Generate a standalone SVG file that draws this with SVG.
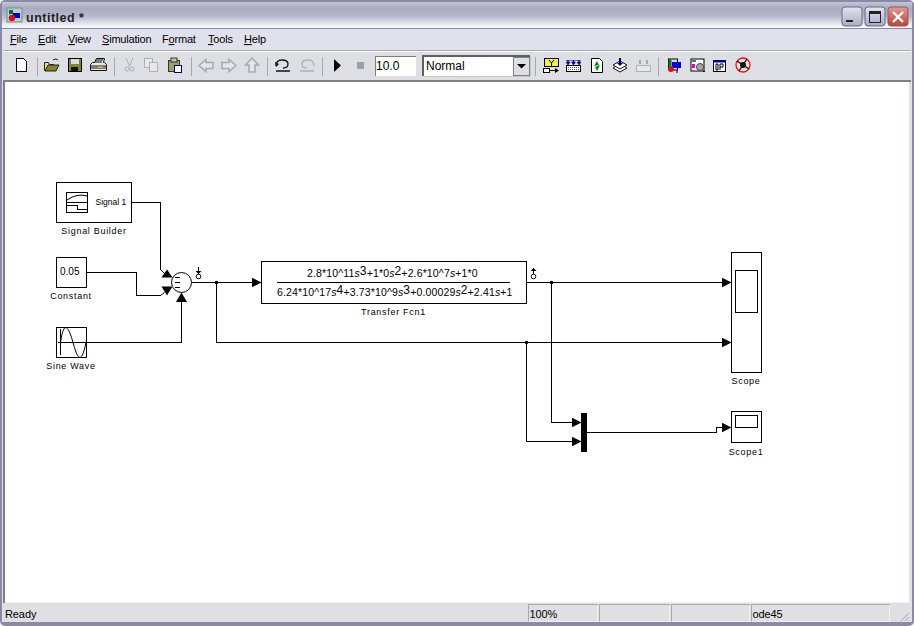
<svg xmlns="http://www.w3.org/2000/svg" width="914" height="626" viewBox="0 0 914 626">
<style>
text{font-family:"Liberation Sans",Arial,sans-serif;fill:#000}
.m{font-size:11px;letter-spacing:-.2px}
.u{text-decoration:underline}
.l{font-size:9px;letter-spacing:.7px;text-anchor:middle}
.f{font-size:10.500px;letter-spacing:.14px}
.e{font-size:12px}
.b{fill:#fff;stroke:#000;stroke-width:1;shape-rendering:crispEdges}
.w{fill:none;stroke:#000;stroke-width:1;shape-rendering:crispEdges}
.w2{fill:none;stroke:#000;stroke-width:1}
.sep{stroke:#a9a9ad;stroke-width:1;shape-rendering:crispEdges}
.s{font-size:11px;letter-spacing:-.1px}
.g{fill:#e6e6ea;stroke:#a8a8ac;stroke-width:1.500}
.sb{fill:none;stroke:#a8a8ac;stroke-width:1;shape-rendering:crispEdges}
.sh{fill:none;stroke:#f2f2f4;stroke-width:1;shape-rendering:crispEdges}
</style>
<defs>
<linearGradient id="tb" x1="0" y1="0" x2="0" y2="1">
<stop offset="0" stop-color="#c4c4d4"/><stop offset=".25" stop-color="#aaaac0"/><stop offset=".55" stop-color="#b8b8cc"/><stop offset=".85" stop-color="#e8e8f0"/><stop offset="1" stop-color="#fdfdfe"/>
</linearGradient>
<linearGradient id="btn" x1="0" y1="0" x2="0" y2="1"><stop offset="0" stop-color="#e4e5ee"/><stop offset="1" stop-color="#a9abc4"/></linearGradient>
<linearGradient id="cl" x1="0" y1="0" x2="0" y2="1"><stop offset="0" stop-color="#e39a8c"/><stop offset="1" stop-color="#b8453c"/></linearGradient>
<marker id="a" markerWidth="10" markerHeight="11" refX="9.500" refY="5.500" orient="auto" markerUnits="userSpaceOnUse"><path d="M0 .5L10 5.500L0 10.500z" fill="#000"/></marker>
</defs>

<g id="window-chrome">
<rect x="0" y="0" width="914" height="626" fill="#8a8aa6" rx="5"/>
<rect x="2" y="2" width="910" height="622" fill="#dfe0e8" rx="3"/>
<rect x="2" y="2" width="910" height="26" fill="url(#tb)"/>
<rect x="0" y="28" width="914" height="1" fill="#8a8aa6"/>
<rect x="3" y="29" width="908" height="21" fill="#e0e2eb"/>
<rect x="3" y="50" width="908" height="1" fill="#a8a8ac"/>
<rect x="3" y="51" width="908" height="1" fill="#fff"/>
<rect x="3" y="52" width="908" height="28" fill="#dedfe5"/>
<rect x="3" y="80" width="908" height="2" fill="#808084"/>
<rect x="3" y="82" width="2" height="521" fill="#808084"/>
<rect x="5" y="82" width="904" height="521" fill="#fff"/>
<rect x="5" y="602" width="904" height="1" fill="#f0f0ec"/>
<rect x="3" y="603" width="908" height="19" fill="#dfdfe4"/>
<rect x="2" y="622" width="910" height="2" fill="#8a8aa6"/>
</g>

<g id="title-bar">
<rect x="7" y="8" width="15" height="14" fill="#c8c8c8" stroke="#40a0a0"/>
<path d="M9 10h4v4h-4z" fill="#0a6a2a"/><rect x="13" y="13" width="7" height="5" fill="#0000d8"/><circle cx="12" cy="18" r="3.200" fill="#d81010"/>
<text x="26" y="22" font-size="12.500" font-weight="bold" letter-spacing=".5" style="fill:#222">untitled *</text>
<rect x="842" y="7" width="20" height="19" rx="3" fill="url(#btn)" stroke="#68688a"/>
<rect x="846" y="20" width="7" height="2" fill="#222"/>
<rect x="865" y="7" width="20" height="19" rx="3" fill="url(#btn)" stroke="#68688a"/>
<rect x="869.500" y="11.500" width="11" height="11" fill="none" stroke="#222"/><rect x="870" y="12" width="10" height="2" fill="#222"/>
<rect x="888" y="7" width="20" height="19" rx="3" fill="url(#cl)" stroke="#8a5a60"/>
<path d="M893 12l10 10M903 12l-10 10" stroke="#fff" stroke-width="2.400"/>
</g>

<g id="menu-bar" class="m">
<text x="10" y="43"><tspan class="u">F</tspan>ile</text>
<text x="38" y="43"><tspan class="u">E</tspan>dit</text>
<text x="68" y="43"><tspan class="u">V</tspan>iew</text>
<text x="102" y="43"><tspan class="u">S</tspan>imulation</text>
<text x="162" y="43">F<tspan class="u">o</tspan>rmat</text>
<text x="208" y="43"><tspan class="u">T</tspan>ools</text>
<text x="244" y="43"><tspan class="u">H</tspan>elp</text>
</g>

<g id="toolbar">
<path d="M16.500 58.500h7l3 3v9.500h-10z" fill="#fff" stroke="#000" shape-rendering="crispEdges"/>
<path class="sep" d="M37 57v19M114 57v19M191 57v19M267 57v19M322 57v19M535 57v19M658 57v19" fill="none"/>
<path d="M44.500 62.500h4l1 2h4v6h-9z" fill="#f4e45c" stroke="#222"/><path d="M45 71l3-6h11l-3 6z" fill="#84842c" stroke="#222"/><path d="M53 60q3-2 5 0" fill="none" stroke="#222"/>
<rect x="68.500" y="58.500" width="13" height="13" fill="#84842c" stroke="#000"/><rect x="71" y="59" width="8" height="5" fill="#ddd"/><rect x="71" y="67" width="7" height="4" fill="#111"/>
<path d="M90.500 64.500l2-2h2l2-4h8l-1 4h1l2 2v6h-16z" fill="#e8e8e8" stroke="#111"/><path d="M96 60h7M95 62h7M91 66h15M91 68h15" stroke="#111"/><rect x="98" y="66.500" width="5" height="1.500" fill="#d4c020"/>
<g fill="none" stroke="#b0b0b4"><path d="M126 58l4 9M133 58l-4 9"/><circle cx="127" cy="69" r="2"/><circle cx="132" cy="69" r="2"/></g>
<g fill="#e8e8ea" stroke="#b0b0b4" shape-rendering="crispEdges"><rect x="144.500" y="58.500" width="8" height="9"/><rect x="149.500" y="62.500" width="8" height="9"/></g>
<rect x="168.500" y="60.500" width="11" height="11" fill="#a0a060" stroke="#333"/><rect x="171" y="58" width="6" height="4" fill="#c8c8a0" stroke="#333"/><rect x="174.500" y="65.500" width="7" height="7" fill="#fff" stroke="#000080"/>
<path class="g" d="M199 65.500l7-6v3h7v6h-7v3z"/><path class="g" d="M236 65.500l-7-6v3h-7v6h7v3z"/>
<path class="g" d="M252 58l6.500 7h-3.500v7h-6v-7h-3.500z"/>
<path d="M276 66q0-6 6-6t6 4t-5 4M276 71h14" fill="none" stroke="#111" stroke-width="1.300"/><path d="M275 62l1 5l3-3z" fill="#111"/>
<path d="M314 66q0-6-6-6t-6 4t5 4M300 71h14" fill="none" stroke="#b0b0b4" stroke-width="1.300"/>
<path d="M334 59l7 6.500l-7 6.500z" fill="#000"/>
<rect x="357" y="62" width="7" height="7" fill="#a0a0a4"/>
<rect x="375" y="56" width="41" height="20" fill="#fff"/><path d="M375 76v-20h41" fill="none" stroke="#80806c" shape-rendering="crispEdges"/>
<text x="376" y="70" font-size="12">10.0</text>
<rect x="423" y="56" width="107" height="20" fill="#fff"/><path d="M423 76v-20h107" fill="none" stroke="#60605a" stroke-width="1.500" shape-rendering="crispEdges"/>
<path d="M423 76h107v-20" fill="none" stroke="#c8c8b8" shape-rendering="crispEdges"/>
<text x="426" y="70" font-size="12">Normal</text>
<rect x="513" y="57" width="16" height="18" fill="#dedfe5" stroke="#808084" shape-rendering="crispEdges"/><path d="M517 64h9l-4.500 4.500z" fill="#000"/>
<rect x="544.500" y="58.500" width="14" height="8" fill="#f0f040" stroke="#000"/><path d="M549 60l2.500 3l2.500-3M551.500 63v3" stroke="#000" fill="none"/>
<rect x="543.500" y="68.500" width="6" height="4" fill="#fff" stroke="#000"/><path d="M549 70.500h8" stroke="#000"/><path d="M555 68l4 2.500l-4 2.500z" fill="#000"/>
<rect x="566.500" y="65.500" width="14" height="6" fill="#fff" stroke="#000"/><path d="M568 67.500h12M568 69.500h12" stroke="#555" stroke-dasharray="1 1"/>
<path d="M568 60v4M573.500 60v4M579 60v4" stroke="#00007a" stroke-width="1.200"/><path d="M566 62l2 3l2-3zM571.500 62l2 3l2-3zM577 62l2 3l2-3zM566 60.500h15" fill="#00007a" stroke="#00007a" stroke-width=".5"/>
<path d="M591.500 58.500h8l3 3v11h-11z" fill="#fff" stroke="#000"/><path d="M594 66l3-5l2 4zM600 65l-3 6l-2-4z" fill="#108010"/>
<path d="M613 68l7-4l7 4l-7 4z" fill="#fff" stroke="#111"/><path d="M613 65l7-4l7 4l-7 4z" fill="#fff" stroke="#111"/><path d="M620 58v7" stroke="#00007a" stroke-width="2"/><path d="M617 63h6l-3 3z" fill="#00007a"/>
<rect x="636.500" y="65.500" width="14" height="6" fill="#e8e8e8" stroke="#b0b0b4"/><path d="M640 60v4M647 60v4" stroke="#a8a8ac" stroke-width="2"/>
<rect x="668.500" y="59" width="9" height="11" fill="none" stroke="#000"/><path d="M669 59v-1M669 60h2v6h-2z" fill="#0a7a2a" stroke="#0a7a2a"/><rect x="672" y="62" width="9" height="6" fill="#0000e0"/><circle cx="671" cy="69" r="3" fill="#e01010"/><path d="M677 70v3" stroke="#000"/>
<rect x="691" y="59" width="13" height="12" fill="#fff" stroke="#000"/><rect x="692" y="60" width="4" height="2" fill="#408080"/><rect x="692" y="64" width="3" height="4" fill="#f000d0"/><circle cx="700" cy="67" r="3.500" fill="#a8a8a8" stroke="#444"/><rect x="703" y="71" width="2" height="1" fill="#000080"/>
<rect x="713.500" y="60.500" width="12" height="11" fill="#fff" stroke="#000"/><rect x="713" y="60" width="13" height="2.500" fill="#000080"/><path d="M716 64h2v6h-2zM720 64h3v3h-3zM720 67v3" fill="none" stroke="#000"/>
<circle cx="743" cy="65" r="7" fill="#e4e4e4" stroke="#f01010" stroke-width="1.300"/><path d="M737 61l12 8M739 71l8-12" stroke="#111" stroke-width="1.300"/><circle cx="743" cy="65" r="3" fill="#111"/>
</g>

<g id="connectors">
<path class="w" d="M131.500 202.500h29v67"/>
<path class="w2" d="M160.500 269.500l5 5"/>
<path d="M167 269.500l5.500 8h-11z" fill="#000"/>
<path class="w" d="M86.500 272.500h50v23h24"/>
<path class="w2" d="M160.500 295.500l4-3"/>
<path d="M167 295.500l5.500-9h-11z" fill="#000"/>
<path class="w" d="M86.500 342.500h95V302"/>
<path d="M181.500 292.500l-5.500 9.500h11z" fill="#000"/>
<path class="w" d="M192 282.500h69" marker-end="url(#a)"/>
<path class="w" d="M216.500 282.500v60H731" marker-end="url(#a)"/>
<path class="w" d="M526.500 282.500H731" marker-end="url(#a)"/>
<path class="w" d="M551.500 282.500v140H581" marker-end="url(#a)"/>
<path class="w" d="M526.500 342.500v99H581" marker-end="url(#a)"/>
<path class="w" d="M587 432.500h129v-5H731" marker-end="url(#a)"/>
<circle cx="216.500" cy="282.500" r="1.800" fill="#000"/>
<circle cx="551.500" cy="282.500" r="1.800" fill="#000"/>
<circle cx="526.500" cy="342.500" r="1.800" fill="#000"/>
</g>

<g id="signal-builder">
<rect class="b" x="56.500" y="182.500" width="75" height="40"/>
<rect class="w" x="66.500" y="192.500" width="21" height="20"/>
<path class="w" d="M66.500 202.500h21"/>
<path class="w2" d="M67 200q10-7 20-4"/>
<path class="w" d="M67 205.500h10v4h10"/>
<text x="95.500" y="205" font-size="8.500">Signal 1</text>
<text class="l" x="94" y="234">Signal Builder</text>
</g>
<g id="constant">
<rect class="b" x="56.500" y="257.500" width="30" height="30"/>
<text x="60" y="275" font-size="10">0.05</text>
<text class="l" x="71" y="299">Constant</text>
</g>
<g id="sine-wave">
<rect class="b" x="56.500" y="327.500" width="30" height="30"/>
<path class="w" d="M60.500 329v26M58 342.500h28"/>
<path class="w2" d="M60.500 342.500C64 318 69 328 73 342.500S81 367 86 342.500"/>
<text class="l" x="71" y="369">Sine Wave</text>
</g>
<g id="sum">
<circle cx="181.500" cy="282.500" r="10" fill="#fff" stroke="#000"/>
<path class="w" d="M175 277.500h5M175 282.500h5M175 287.500h5"/>
<path class="w" d="M198.500 267v7"/><path d="M195.500 271h6l-3 3z" fill="#000"/>
<circle cx="198.500" cy="276.500" r="2.300" fill="#fff" stroke="#000"/>
</g>
<g id="transfer-fcn1">
<rect class="b" x="261.500" y="261.500" width="265" height="42"/>
<path class="w" d="M277 282.500h233"/>
<text x="307" y="277" class="f">2.8*10^11<tspan font-style="italic">s</tspan><tspan class="e" dy="-2">3</tspan><tspan dy="2">+1*0</tspan><tspan font-style="italic">s</tspan><tspan class="e" dy="-2">2</tspan><tspan dy="2">+2.6*10^7</tspan><tspan font-style="italic">s</tspan>+1*0</text>
<text x="277" y="296" class="f">6.24*10^17<tspan font-style="italic">s</tspan><tspan class="e" dy="-2">4</tspan><tspan dy="2">+3.73*10^9</tspan><tspan font-style="italic">s</tspan><tspan class="e" dy="-2">3</tspan><tspan dy="2">+0.00029</tspan><tspan font-style="italic">s</tspan><tspan class="e" dy="-2">2</tspan><tspan dy="2">+2.41</tspan><tspan font-style="italic">s</tspan>+1</text>
<path class="w" d="M533.500 268v7"/><path d="M530.500 271h6l-3-3z" fill="#000"/>
<circle cx="533.500" cy="276.500" r="2.300" fill="#fff" stroke="#000"/>
<text class="l" x="393.500" y="315">Transfer Fcn1</text>
</g>
<g id="scope">
<rect class="b" x="731.500" y="252.500" width="30" height="120"/>
<rect class="b" x="735.500" y="270.500" width="22" height="42"/>
<text class="l" x="746" y="384">Scope</text>
</g>
<g id="scope1">
<rect class="b" x="731.500" y="411.500" width="30" height="31"/>
<rect class="b" x="735.500" y="415.500" width="22" height="12"/>
<text class="l" x="746" y="455">Scope1</text>
</g>
<g id="mux">
<rect x="581" y="413" width="6" height="39" fill="#000"/>
</g>

<g id="status-bar">
<text class="s" x="5" y="618">Ready</text>
<path class="sb" d="M528.500 621v-16.500h69M599.500 621v-16.500h70M671.500 621v-16.500h78M751.500 621v-16.500h138"/>
<path class="sh" d="M597.500 604.500v16.500h-69M669.500 604.500v16.500h-70M749.500 604.500v16.500h-78M889.500 604.500v16.500h-138"/>
<text class="s" x="529.500" y="618">100%</text>
<text class="s" x="752.500" y="618">ode45</text>
<path d="M901 621l8-8M905 621l4-4" stroke="#a8a8ac" fill="none"/>
</g>
</svg>
